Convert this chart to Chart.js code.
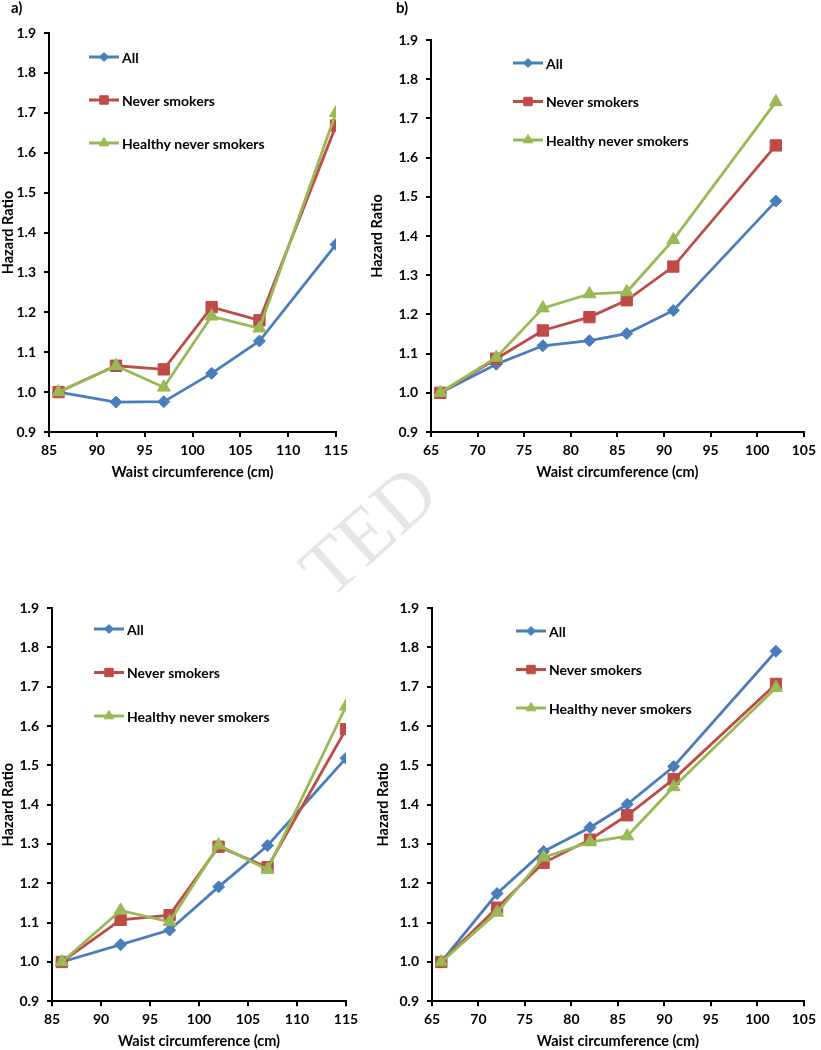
<!DOCTYPE html>
<html>
<head>
<meta charset="utf-8">
<script src="https://cdn.jsdelivr.net/npm/chart.js@4.4.1/dist/chart.umd.min.js"></script>
<style>
  body { margin: 0; background: #fff; }
  #wrap { position: relative; width: 821px; height: 1050px; overflow: hidden; font-family: Lato, sans-serif; }
  canvas { position: absolute; }
  .tag { position: absolute; font: bold 15px Lato, sans-serif; color: #000; }
  #mark { position: absolute; left: 282px; top: 548px; font: 78px "Liberation Serif", serif; color: #e6e6e6;
          transform: rotate(-42deg); transform-origin: 0 0; white-space: nowrap; }
</style>
</head>
<body>
<div id="wrap">
  <div id="mark">TED</div>
  <canvas id="chartA"></canvas>
  <canvas id="chartB"></canvas>
  <canvas id="chartC"></canvas>
  <canvas id="chartD"></canvas>
  <div class="tag" style="left:11px;top:-2px">a)</div>
  <div class="tag" style="left:396px;top:-2px">b)</div>
</div>
<script>
const seriesNames = ['All', 'Never smokers', 'Healthy never smokers'];

// waist circumference categories (cm)
const waistHigh = [86, 92, 97, 102, 107, 115];
const waistLow = [66, 72, 77, 82, 86, 91, 102];

// panel a
const allA = [1.0, 0.975, 0.976, 1.047, 1.128, 1.37];
const neverA = [1.0, 1.066, 1.057, 1.213, 1.18, 1.668];
const healthyA = [1.0, 1.066, 1.012, 1.19, 1.16, 1.70];

// panel b
const allB = [1.0, 1.073, 1.12, 1.133, 1.151, 1.21, 1.489];
const neverB = [1.0, 1.087, 1.159, 1.193, 1.236, 1.322, 1.631];
const healthyB = [1.0, 1.09, 1.216, 1.252, 1.257, 1.39, 1.742];

// bottom left
const allC = [1.0, 1.044, 1.081, 1.191, 1.296, 1.518];
const neverC = [1.0, 1.107, 1.119, 1.293, 1.241, 1.592];
const healthyC = [1.0, 1.131, 1.102, 1.297, 1.235, 1.65];

// bottom right
const allD = [1.0, 1.174, 1.281, 1.342, 1.401, 1.497, 1.79];
const neverD = [1.0, 1.138, 1.252, 1.311, 1.373, 1.465, 1.707];
const healthyD = [1.0, 1.126, 1.266, 1.305, 1.32, 1.445, 1.697];

const yTicks = [0.9, 1.0, 1.1, 1.2, 1.3, 1.4, 1.5, 1.6, 1.7, 1.8, 1.9];
const xTicksHigh = [85, 90, 95, 100, 105, 110, 115];
const xTicksLow = [65, 70, 75, 80, 85, 90, 95, 100, 105];

const colors = ['#4A7EBB', '#BE4B48', '#98B954'];
const styles = ['rectRot', 'rect', 'triangle'];
const radii = [6, 8, 7.5];
const font = { family: 'Lato', weight: 'bold', size: 14 };
const titleFont = { family: 'Lato', weight: 'bold', size: 14.5 };

const inlineLegend = {
  id: 'inlineLegend',
  afterDatasetsDraw(chart, args, opts) {
    const ctx = chart.ctx;
    chart.data.datasets.forEach((ds, i) => {
      const y = opts.y + i * opts.gap;
      ctx.save();
      ctx.strokeStyle = ds.borderColor;
      ctx.lineWidth = 3;
      ctx.beginPath();
      ctx.moveTo(opts.x, y);
      ctx.lineTo(opts.x + 30, y);
      ctx.stroke();
      ctx.fillStyle = ds.borderColor;
      ctx.lineWidth = 1;
      Chart.helpers.drawPoint(ctx, { pointStyle: ds.pointStyle, radius: ds.pointRadius * 0.75, borderWidth: 1 }, opts.x + 15, y);
      ctx.fillStyle = '#000';
      ctx.font = 'bold 14px Lato';
      ctx.textBaseline = 'middle';
      ctx.fillText(ds.label, opts.x + 33, y + 1);
      ctx.restore();
    });
  }
};

function makeChart(id, box, area, titleY, xs, series, xTicks, legend) {
  const cv = document.getElementById(id);
  cv.width = box.w; cv.height = box.h;
  cv.style.left = box.x + 'px'; cv.style.top = box.y + 'px';

  const half = titleFont.size * 1.2 / 2;
  const yw = area.left - box.x;
  const xh = titleY + half - area.bottom;
  const padBottom = Math.max(0, box.y + box.h - (titleY + half));

  const datasets = series.map((vals, i) => ({
    label: seriesNames[i],
    data: xs.map((x, j) => ({ x: x, y: vals[j] })),
    borderColor: colors[i],
    backgroundColor: colors[i],
    pointBackgroundColor: colors[i],
    pointBorderColor: colors[i],
    pointStyle: styles[i],
    pointRadius: radii[i],
    pointBorderWidth: 1,
    borderWidth: 2.8,
    tension: 0,
    order: 2 - i
  }));

  new Chart(cv, {
    type: 'line',
    data: { datasets },
    plugins: [inlineLegend],
    options: {
      responsive: false,
      animation: false,
      devicePixelRatio: 1,
      layout: { padding: { left: 0, top: area.top - box.y, right: box.x + box.w - area.right, bottom: padBottom } },
      plugins: { legend: { display: false }, tooltip: { enabled: false }, inlineLegend: legend },
      scales: {
        x: {
          type: 'linear',
          min: xTicks[0], max: xTicks[xTicks.length - 1],
          afterBuildTicks: s => { s.ticks = xTicks.map(v => ({ value: v })); },
          afterFit: s => { s.height = xh; },
          grid: { drawOnChartArea: false, drawTicks: true, tickLength: 5, color: '#000', lineWidth: 2 },
          border: { color: '#000', width: 2 },
          ticks: { color: '#000', font, padding: 5, maxRotation: 0, autoSkip: false, callback: v => String(v) },
          title: { display: true, text: 'Waist circumference (cm)', color: '#000', font: titleFont, padding: 0 }
        },
        y: {
          type: 'linear',
          min: yTicks[0], max: yTicks[yTicks.length - 1],
          afterBuildTicks: s => { s.ticks = yTicks.map(v => ({ value: v })); },
          afterFit: s => { s.width = yw; },
          grid: { drawOnChartArea: false, drawTicks: true, tickLength: 5, color: '#000', lineWidth: 2 },
          border: { color: '#000', width: 2 },
          ticks: { color: '#000', font, padding: 8, autoSkip: false, callback: v => v.toFixed(1) },
          title: { display: true, text: 'Hazard Ratio', color: '#000', font: titleFont, padding: 0 }
        }
      }
    }
  });
}

makeChart('chartA', { x: 0, y: 0, w: 410, h: 490 }, { left: 49, right: 336, top: 33, bottom: 432 }, 472,
  waistHigh, [allA, neverA, healthyA], xTicksHigh, { x: 89, y: 57, gap: 43 });
makeChart('chartB', { x: 369, y: 0, w: 452, h: 490 }, { left: 431, right: 805, top: 40, bottom: 432 }, 472,
  waistLow, [allB, neverB, healthyB], xTicksLow, { x: 144, y: 63, gap: 38.5 });
makeChart('chartC', { x: 0, y: 520, w: 410, h: 530 }, { left: 52, right: 346, top: 608, bottom: 1002 }, 1042,
  waistHigh, [allC, neverC, healthyC], xTicksHigh, { x: 94, y: 109, gap: 43.5 });
makeChart('chartD', { x: 375, y: 520, w: 446, h: 530 }, { left: 432, right: 809, top: 608, bottom: 1002 }, 1042,
  waistLow, [allD, neverD, healthyD], xTicksLow, { x: 141, y: 111, gap: 38.5 });
</script>
</body>
</html>
